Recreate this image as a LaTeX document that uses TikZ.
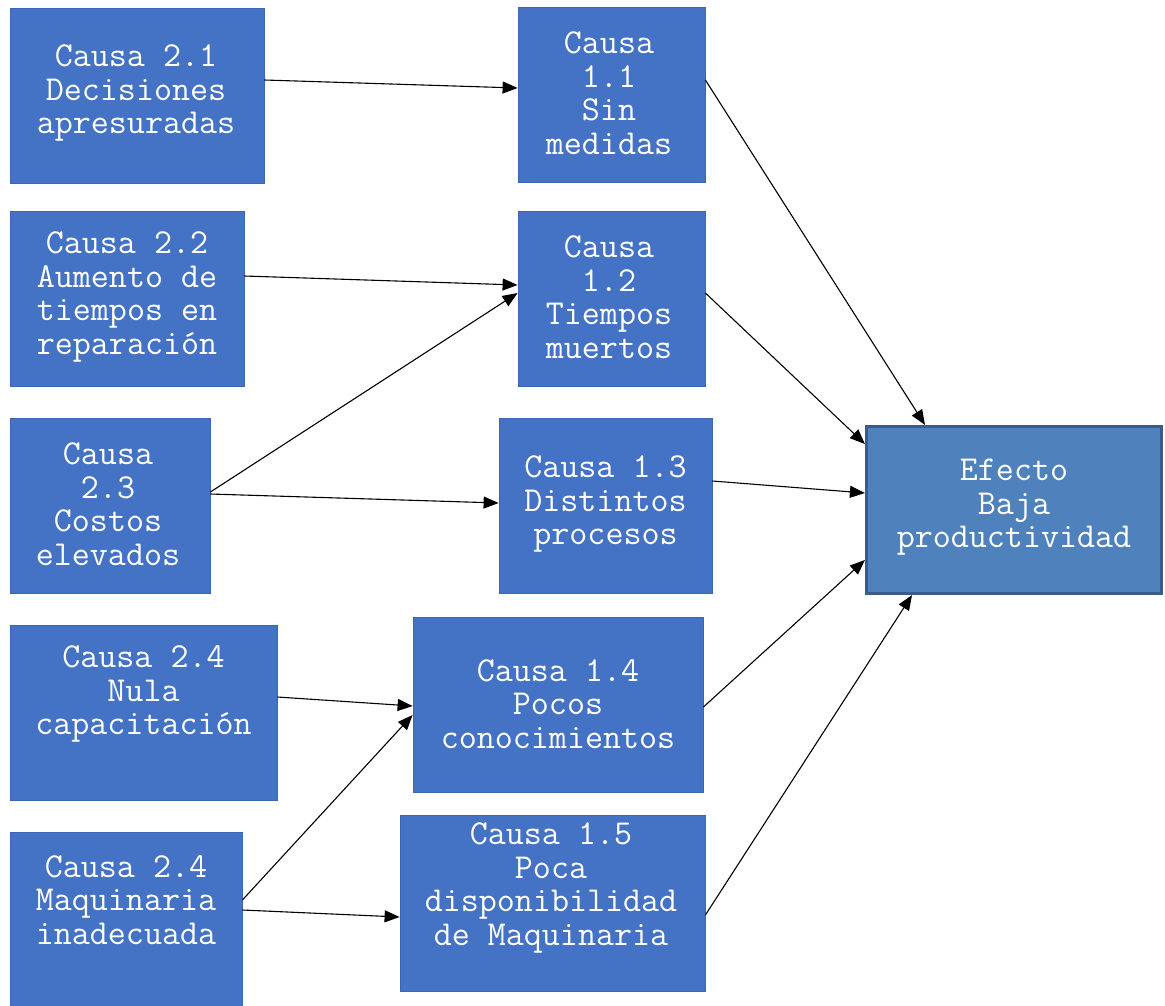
\documentclass[tikz,border=0pt]{standalone}
\usepackage{fontspec}
\usetikzlibrary{arrows.meta}
\definecolor{boxblue}{HTML}{4472C4}
\definecolor{boxedge}{HTML}{3A66B3}
\definecolor{effblue}{HTML}{4F81BD}
\definecolor{effedge}{HTML}{385D8A}
\begin{document}
\begin{tikzpicture}[x=1pt,y=-1pt,
  cbox/.style={draw=boxedge,line width=0.8pt,fill=boxblue,rectangle,inner sep=0pt},
  ebox/.style={draw=effedge,line width=3.2pt,fill=effblue,rectangle,inner sep=0pt},
  txt/.style={text=white,align=center,inner sep=0pt,font=\ttfamily\fontsize{35}{33.5}\selectfont},
  arr/.style={line width=1.1pt,-{Triangle[length=15pt,width=12pt]}}]
\useasboundingbox (0,0) rectangle (1165,1005);
% boxes
\node[cbox,minimum width=254pt,minimum height=175pt] (c21) at (137,95.5) {};
\node[cbox,minimum width=234pt,minimum height=175pt] (c22) at (127,298.5) {};
\node[cbox,minimum width=200pt,minimum height=175pt] (c23) at (110,505.5) {};
\node[cbox,minimum width=267pt,minimum height=175pt] (c24a) at (143.5,712.5) {};
\node[cbox,minimum width=232pt,minimum height=176pt] (c24b) at (126,920) {};
\node[cbox,minimum width=187pt,minimum height=175pt] (c11) at (611.5,94.5) {};
\node[cbox,minimum width=187pt,minimum height=175pt] (c12) at (611.5,298.5) {};
\node[cbox,minimum width=213pt,minimum height=175pt] (c13) at (605.5,505.5) {};
\node[cbox,minimum width=290pt,minimum height=175pt] (c14) at (558,704.5) {};
\node[cbox,minimum width=305pt,minimum height=176pt] (c15) at (552.5,903) {};
\node[ebox,minimum width=295pt,minimum height=167pt] (eff) at (1014,510) {};
% texts
\node[txt] (t21) at (136,93) {Causa 2.1\\Decisiones\\apresuradas};
\node[txt] (t22) at (127,297) {Causa 2.2\\Aumento de\\tiempos en\\reparación};
\node[txt] (t23) at (108,504) {Causa\\2.3\\Costos\\elevados};
\node[txt] (t24a) at (143.5,694) {Causa 2.4\\Nula\\capacitación};
\node[txt] (t24b) at (126,900) {Causa 2.4\\Maquinaria\\inadecuada};
\node[txt] (t11) at (609,93) {Causa\\1.1\\Sin\\medidas};
\node[txt] (t12) at (609,297) {Causa\\1.2\\Tiempos\\muertos};
\node[txt] (t13) at (605.5,504) {Causa 1.3\\Distintos\\procesos};
\node[txt] (t14) at (558,704) {Causa 1.4\\Pocos\\conocimientos};
\node[txt] (t15) at (551,888) {Causa 1.5\\Poca\\disponibilidad\\de Maquinaria};
\node[txt] (teff) at (1014,507.5) {Efecto\\Baja\\productividad};
% connectors
\draw[arr] ([yshift=15.5pt]c21.east) -- ([yshift=6.5pt]c11.west);
\draw[arr] ([yshift=22.5pt]c22.east) -- ([yshift=13.5pt]c12.west);
\draw[arr] ([yshift=13.5pt]c23.east) -- ([yshift=5.5pt]c12.west);
\draw[arr] ([yshift=11.5pt]c23.east) -- ([yshift=2.5pt]c13.west);
\draw[arr] ([yshift=15.5pt]c24a.east) -- ([yshift=-1.5pt]c14.west);
\draw[arr] ([yshift=20pt]c24b.east) -- ([yshift=-10.5pt]c14.west);
\draw[arr] ([yshift=10pt]c24b.east) -- ([yshift=-14pt]c15.west);
\draw[arr] ([yshift=14.5pt]c11.east) -- ([xshift=-89pt]eff.north);
\draw[arr] ([yshift=5.5pt]c12.east) -- ([yshift=66pt]eff.west);
\draw[arr] ([yshift=24.5pt]c13.east) -- ([yshift=17pt]eff.west);
\draw[arr] ([yshift=-2.5pt]c14.east) -- ([yshift=-50pt]eff.west);
\draw[arr] ([yshift=-12pt]c15.east) -- ([xshift=-102pt]eff.south);
\end{tikzpicture}
\end{document}
